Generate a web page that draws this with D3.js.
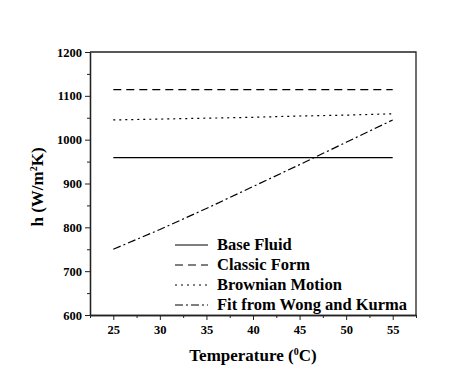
<!DOCTYPE html>
<html>
<head>
<meta charset="UTF-8" />
<script src="https://cdn.jsdelivr.net/npm/d3@7"></script>
<style>
  body { margin: 0; background: #fff; }
  text { font-family: "Liberation Serif", "Times New Roman", serif; font-weight: bold; fill: #000; }
</style>
</head>
<body>
<div id="app"></div>
<script>
  // datos
  const temps = [25, 30, 35, 40, 45, 50, 55];
  const baseFluid = [959, 959, 959, 959, 959, 959, 959];
  const classicForm = [1114, 1114, 1114, 1114, 1114, 1114, 1114];
  const brownian = [1045, 1047, 1049, 1051, 1054, 1056, 1059];
  const wongKurma = [750, 795, 843, 893, 943, 994, 1045];
  const seriesNames = ["Base Fluid", "Classic Form", "Brownian Motion", "Fit from Wong and Kurma"];
  const xTicks = [25, 30, 35, 40, 45, 50, 55];
  const yTicks = [600, 700, 800, 900, 1000, 1100, 1200];

  const w = 463, h = 387;
  const mLeft = 90, mRight = 416, mTop = 52, mBottom = 315;
  const serif = "'Liberation Serif', 'Times New Roman', serif";

  const svg = d3.select("#app").append("svg")
    .attr("width", w).attr("height", h);

  const x = d3.scaleLinear().domain([22.5, 57.5]).range([mLeft, mRight]);
  const y = d3.scaleLinear().domain([600, 1200]).range([mBottom, mTop]);

  // ejes
  const xAxis = svg.append("g")
    .attr("transform", "translate(0," + mBottom + ")")
    .call(d3.axisBottom(x).tickValues(xTicks).tickSize(5).tickPadding(5).tickSizeOuter(0).tickFormat(d3.format("d")));
  svg.append("g")
    .attr("transform", "translate(0," + mBottom + ")")
    .call(d3.axisBottom(x).tickValues(d3.range(22.5, 57.6, 2.5).filter(v => v % 5 != 0)).tickSize(3).tickFormat("").tickSizeOuter(0));

  const yAxis = svg.append("g")
    .attr("transform", "translate(" + mLeft + ",0)")
    .call(d3.axisLeft(y).tickValues(yTicks).tickSize(5).tickPadding(3).tickSizeOuter(0).tickFormat(d3.format("d")));
  svg.append("g")
    .attr("transform", "translate(" + mLeft + ",0)")
    .call(d3.axisLeft(y).tickValues(d3.range(650, 1200, 100)).tickSize(3).tickFormat("").tickSizeOuter(0));

  svg.selectAll(".domain").attr("stroke", "#222").attr("stroke-width", 1.3);
  svg.selectAll(".tick line").attr("stroke", "#222");
  svg.selectAll(".tick text")
    .style("font-family", serif)
    .style("font-weight", "bold")
    .style("font-size", "12.5px")
    .attr("fill", "#000");

  // marco
  svg.append("path")
    .attr("d", "M" + mLeft + "," + mTop + "H" + mRight + "V" + mBottom)
    .attr("fill", "none").attr("stroke", "#222").attr("stroke-width", 1.3);

  // series
  const styles = ["none", "8,5", "2,4", "8,3,2,3"];
  const allSeries = [baseFluid, classicForm, brownian, wongKurma];
  const line = d3.line().x((d, i) => x(temps[i])).y(d => y(d));

  allSeries.forEach((s, i) => {
    svg.append("path")
      .datum(s)
      .attr("d", line)
      .attr("fill", "none")
      .attr("stroke", "#000")
      .attr("stroke-width", 1.2)
      .attr("stroke-dasharray", styles[i]);
  });

  // leyenda
  const legend = svg.append("g");
  seriesNames.forEach((name, i) => {
    const ly = 245 + i * 20;
    legend.append("line")
      .attr("x1", 175).attr("x2", 208).attr("y1", ly).attr("y2", ly)
      .attr("stroke", "#000").attr("stroke-width", 1.2)
      .attr("stroke-dasharray", styles[i]);
    legend.append("text")
      .attr("x", 217).attr("y", ly + 5)
      .style("font-size", "16.5px")
      .text(name);
  });

  // titulos
  const xt = svg.append("text")
    .attr("x", 253).attr("y", 361)
    .attr("text-anchor", "middle")
    .style("font-size", "17px");
  xt.append("tspan").text("Temperature (");
  xt.append("tspan").text("0").attr("dy", -6).style("font-size", "10px");
  xt.append("tspan").text("C)").attr("dy", 6);

  const yt = svg.append("text")
    .attr("transform", "translate(43,187) rotate(-90)")
    .attr("text-anchor", "middle")
    .style("font-size", "17px");
  yt.append("tspan").text("h (W/m");
  yt.append("tspan").text("2").attr("dy", -6).style("font-size", "10px");
  yt.append("tspan").text("K)").attr("dy", 6);
</script>
</body>
</html>
